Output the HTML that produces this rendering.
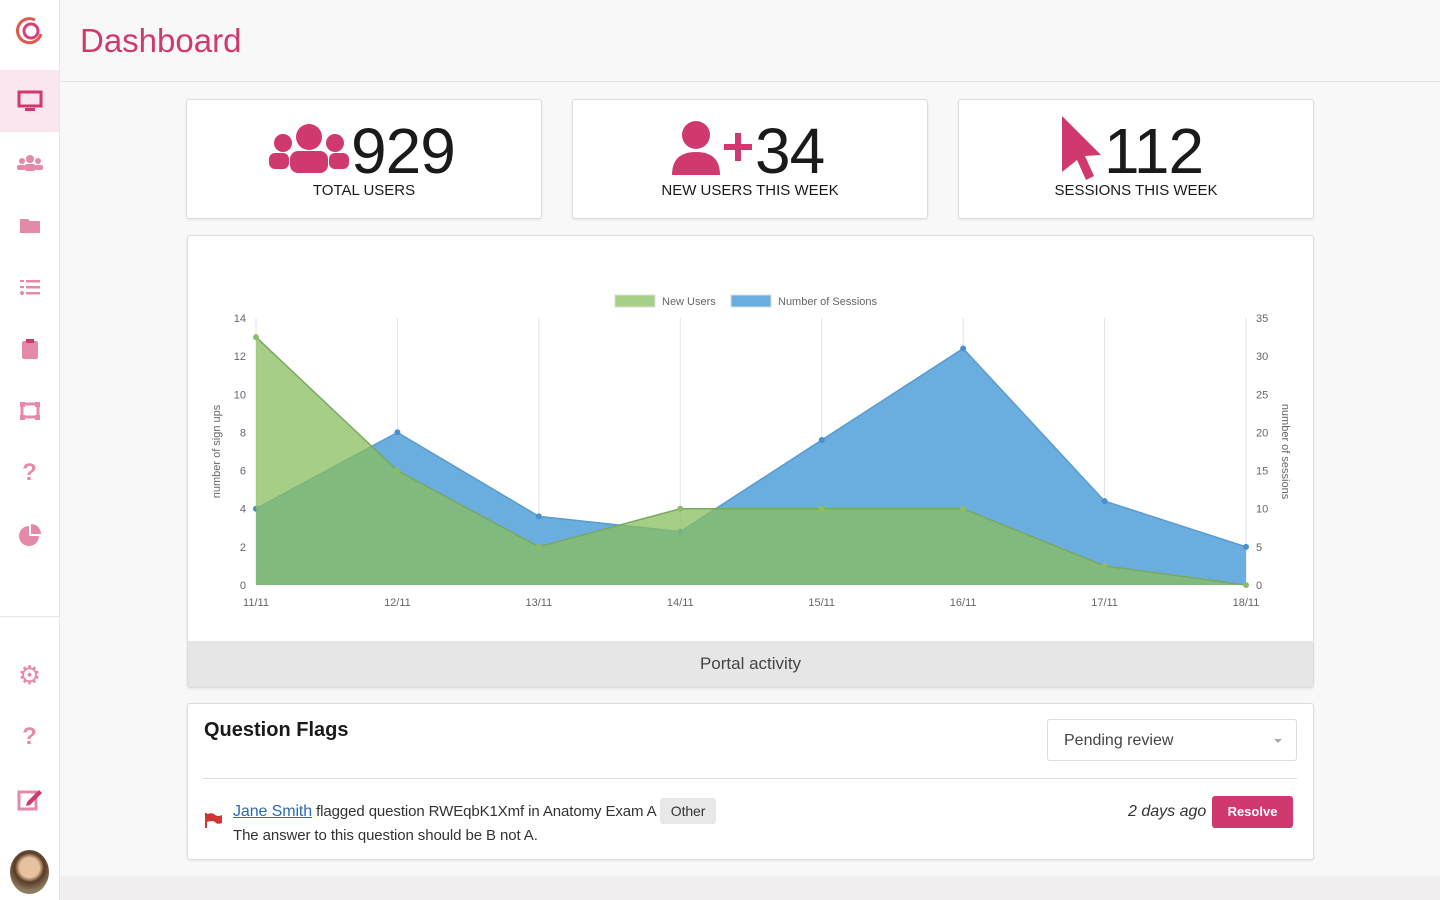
<!DOCTYPE html>
<html><head><meta charset="utf-8">
<style>
*{box-sizing:border-box;margin:0;padding:0}
body{width:1440px;height:900px;overflow:hidden;background:#f8f8f8;font-family:"Liberation Sans",sans-serif;color:#222;position:relative}
.side{position:absolute;left:0;top:0;width:60px;height:900px;background:#fff;border-right:1px solid #e6e6e6}
.nav{position:absolute;left:0;width:59px;height:62px;display:flex;align-items:center;justify-content:center}
.head{position:absolute;left:60px;top:0;right:0;height:82px;border-bottom:1px solid #e4e4e4;background:#f8f8f8}
.head h1{position:absolute;left:20px;top:22px;font-weight:normal;font-size:33px;color:#d0396f}
.card{position:absolute;background:#fff;border:1px solid #dcdcdc;border-radius:3px;box-shadow:0 1px 2px rgba(0,0,0,.08)}
.stat .num{position:absolute;top:14px;font-size:64px;color:#1a1a1a;letter-spacing:-1px}
.stat .lbl{position:absolute;top:82px;left:0;right:0;text-align:center;font-size:15px;color:#1a1a1a}
</style></head><body>
<div class="side">
 <div class="nav" style="top:0"><svg width="30" height="30" viewBox="0 0 30 30"><path d="M20 4 A12 12 0 1 0 26 18" fill="none" stroke="#e0594a" stroke-width="3"/><circle cx="16" cy="15" r="7" fill="none" stroke="#d8407a" stroke-width="3"/></svg></div>
 <div class="nav" style="top:70px;background:#f9e6ee"><svg width="26" height="22"><rect x="2" y="2" width="22" height="14" fill="none" stroke="#d0396f" stroke-width="3"/><rect x="8" y="18" width="10" height="3" fill="#d0396f"/></svg></div>
 <div class="nav" style="top:132px"><svg width="28" height="18"><circle cx="14" cy="5" r="4" fill="#e589a8"/><circle cx="6" cy="7" r="3" fill="#e589a8"/><circle cx="22" cy="7" r="3" fill="#e589a8"/><rect x="8" y="10" width="12" height="7" rx="3" fill="#e589a8"/><rect x="1" y="11" width="8" height="5" rx="2" fill="#e589a8"/><rect x="19" y="11" width="8" height="5" rx="2" fill="#e589a8"/></svg></div>
 <div class="nav" style="top:194px"><svg width="22" height="18"><path d="M1 3h8l2 2h10v12H1z" fill="#e589a8"/></svg></div>
 <div class="nav" style="top:256px"><svg width="22" height="18" fill="#e589a8"><rect x="7" y="2" width="14" height="2.5"/><rect x="7" y="8" width="14" height="2.5"/><rect x="7" y="14" width="14" height="2.5"/><circle cx="3" cy="15" r="2"/><rect x="1" y="2" width="4" height="2"/><rect x="1" y="8" width="4" height="2"/></svg></div>
 <div class="nav" style="top:318px"><svg width="18" height="22"><rect x="1" y="3" width="16" height="18" rx="2" fill="#e589a8"/><rect x="5" y="1" width="8" height="4" fill="#d0396f"/></svg></div>
 <div class="nav" style="top:380px"><svg width="22" height="20"><rect x="3" y="3" width="16" height="13" fill="none" stroke="#e589a8" stroke-width="3"/><rect x="1" y="1" width="5" height="5" fill="#e589a8"/><rect x="16" y="1" width="5" height="5" fill="#e589a8"/><rect x="1" y="14" width="5" height="5" fill="#e589a8"/><rect x="16" y="14" width="5" height="5" fill="#e589a8"/></svg></div>
 <div class="nav" style="top:442px;color:#e589a8;font-size:24px;font-weight:bold">?</div>
 <div class="nav" style="top:504px"><svg width="24" height="24"><path d="M11 3A10 10 0 1 0 21 13H11z" fill="#e589a8"/><path d="M13 1A10 10 0 0 1 23 11H13z" fill="#e589a8"/></svg></div>
 <div style="position:absolute;left:0;top:616px;width:59px;border-top:1px solid #e6e6e6"></div>
 <div class="nav" style="top:644px;color:#e589a8;font-size:26px">⚙</div>
 <div class="nav" style="top:706px;color:#e589a8;font-size:24px;font-weight:bold">?</div>
 <div class="nav" style="top:768px"><svg width="26" height="24"><rect x="2" y="5" width="17" height="17" fill="none" stroke="#e589a8" stroke-width="3"/><path d="M10 15 L22 3 L25 6 L13 18 L9 19z" fill="#d0396f"/></svg></div>
 <div style="position:absolute;left:10px;top:850px;width:39px;height:44px;border-radius:50%;background:radial-gradient(circle at 50% 40%,#e8c2a0 0 30%,#5a3a25 45%,#8a7a60 70%)"></div>
</div>
<div class="head"><h1>Dashboard</h1></div>

<div class="card stat" style="left:186px;top:99px;width:356px;height:120px">
 <svg style="position:absolute;left:81px;top:23px" width="82" height="50"><circle cx="41" cy="14" r="13" fill="#d0396f"/><circle cx="15" cy="20" r="9" fill="#d0396f"/><circle cx="67" cy="20" r="9" fill="#d0396f"/><rect x="22" y="28" width="38" height="22" rx="8" fill="#d0396f"/><rect x="1" y="30" width="20" height="16" rx="6" fill="#d0396f"/><rect x="61" y="30" width="20" height="16" rx="6" fill="#d0396f"/></svg>
 <div class="num" style="left:164px">929</div>
 <div class="lbl">TOTAL USERS</div>
</div>
<div class="card stat" style="left:572px;top:99px;width:356px;height:120px">
 <svg style="position:absolute;left:99px;top:20px" width="82" height="56"><circle cx="24" cy="15" r="14" fill="#d0396f"/><path d="M0 55 Q0 32 24 32 Q48 32 48 55z" fill="#d0396f"/><rect x="52" y="24" width="28" height="6" fill="#d0396f"/><rect x="63" y="13" width="6" height="28" fill="#d0396f"/></svg>
 <div class="num" style="left:182px">34</div>
 <div class="lbl">NEW USERS THIS WEEK</div>
</div>
<div class="card stat" style="left:958px;top:99px;width:356px;height:120px">
 <svg style="position:absolute;left:100px;top:15px" width="44" height="66"><path d="M3 1 L42 40 L26 41 L35 61 L27 65 L18 45 L3 57z" fill="#d0396f"/></svg>
 <div class="num" style="left:145px">112</div>
 <div class="lbl">SESSIONS THIS WEEK</div>
</div>

<div class="card" style="left:187px;top:235px;width:1127px;height:453px;overflow:hidden">
 <svg id="chart" width="1127" height="407" style="position:absolute;left:0;top:0"></svg>
 <div style="position:absolute;left:0;right:0;bottom:0;height:46px;background:#e6e6e6;text-align:center;line-height:46px;font-size:17px;color:#444">Portal activity</div>
</div>

<div class="card" style="left:187px;top:703px;width:1127px;height:157px">
 <div style="position:absolute;left:16px;top:15px;font-size:20px;font-weight:bold;color:#1a1a1a">Question Flags</div>
 <div style="position:absolute;left:859px;top:15px;width:250px;height:42px;border:1px solid #ddd;border-radius:3px;font-size:16px;color:#444;padding:12px 16px">Pending review<span style="position:absolute;right:14px;top:19px;border:4px solid transparent;border-top-color:#aaa"></span></div>
 <div style="position:absolute;left:15px;right:16px;top:74px;border-top:1px solid #ddd"></div>
 <svg style="position:absolute;left:17px;top:108px" width="18" height="16"><path d="M1 1v15" stroke="#d03535" stroke-width="2"/><path d="M2 2 Q8 0 10 3 Q13 5 17 3 V11 Q12 13 10 10 Q7 8 2 10z" fill="#d03535"/></svg>
 <div style="position:absolute;left:45px;top:95px;font-size:15px;color:#333;line-height:24px;letter-spacing:-0.1px"><a style="color:#2a6ab8;text-decoration:underline;font-size:16px">Jane Smith</a> flagged question RWEqbK1Xmf in Anatomy Exam A <span style="background:#e8e8e8;border-radius:3px;padding:5px 11px;font-size:14px">Other</span><br>The answer to this question should be B not A.</div>
 <div style="position:absolute;left:940px;top:99px;font-size:16px;font-style:italic;color:#333">2 days ago</div>
 <div style="position:absolute;left:1024px;top:92px;width:81px;height:32px;background:#d0396f;border-radius:3px;color:#fff;font-size:13px;font-weight:bold;text-align:center;line-height:32px">Resolve</div>
</div>
<div style="position:absolute;left:60px;top:876px;right:0;bottom:0;background:#f0eeee"></div>

<script>
const categories=["11/11","12/11","13/11","14/11","15/11","16/11","17/11","18/11"];
const newUsers=[13,6,2,4,4,4,1,0];
const sessions=[10,20,9,7,19,31,11,5];
const leftTicks=[0,2,4,6,8,10,12,14];
const rightTicks=[0,5,10,15,20,25,30,35];
const NS="http://www.w3.org/2000/svg";
const svg=document.getElementById('chart');
const X0=68,X1=1058,Y0=349,Y1=82;
const x=i=>X0+(X1-X0)*i/(categories.length-1);
const yL=v=>Y0-(Y0-Y1)*v/14;
const yR=v=>Y0-(Y0-Y1)*v/35;
function el(t,a,p){const e=document.createElementNS(NS,t);for(const k in a)e.setAttribute(k,a[k]);(p||svg).appendChild(e);return e;}
categories.forEach((c,i)=>{
 const g=el('line',{x1:x(i),x2:x(i),y1:Y1,y2:Y0,stroke:'#e3e3e3'});
 
 
 const t=el('text',{x:x(i),y:Y0+21,'text-anchor':'middle','font-size':11,fill:'#666'});t.textContent=c;
 
 
});
leftTicks.forEach(v=>{const t=el('text',{x:X0-10,y:yL(v)+4,'text-anchor':'end','font-size':11,fill:'#666'});t.textContent=v;
 
 });
rightTicks.forEach(v=>{const t=el('text',{x:X1+10,y:yR(v)+4,'font-size':11,fill:'#666'});t.textContent=v;
 
 });
let a=el('text',{transform:`translate(32,${(Y0+Y1)/2}) rotate(-90)`,'text-anchor':'middle','font-size':11,fill:'#666'});a.textContent='number of sign ups';


a=el('text',{transform:`translate(1094,${(Y0+Y1)/2}) rotate(90)`,'text-anchor':'middle','font-size':11,fill:'#666'});a.textContent='number of sessions';


function area(vals,fy,fill,stroke,dot,name){
 let d=`M${x(0)},${Y0}`;vals.forEach((v,i)=>d+=` L${x(i)},${fy(v)}`);d+=` L${x(vals.length-1)},${Y0}Z`;
 const p=el('path',{d,fill});
 
 
 let l='';vals.forEach((v,i)=>l+=(i?' L':'M')+x(i)+','+fy(v));
 el('path',{d:l,fill:'none',stroke,'stroke-width':1.5});
 vals.forEach((v,i)=>{const c=el('circle',{cx:x(i),cy:fy(v),r:3,fill:dot});
 
 });
}
area(sessions,yR,'#6aaee0','#5a9bd0','#4a90d0','sessions');
area(newUsers,yL,'rgba(138,190,95,0.75)','#7aa860','#8cbc68','new-users');
const lg=[['New Users','#a8cf88',427],['Number of Sessions','#6aaee0',543]];
lg.forEach(([n,c,lx])=>{const r=el('rect',{x:lx,y:59,width:40,height:12,fill:c,stroke:'#ddd'});
 
 
 const t=el('text',{x:lx+47,y:69,'font-size':11,fill:'#666'});t.textContent=n;
 
 });
</script>
</body></html>
